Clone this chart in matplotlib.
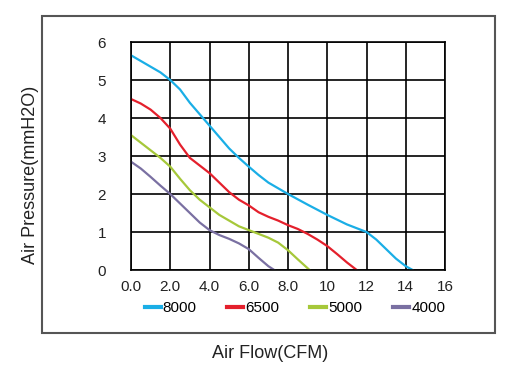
import matplotlib
matplotlib.use("Agg")
import matplotlib.pyplot as plt
from matplotlib.patches import Rectangle
from matplotlib.lines import Line2D

plt.rcParams['font.family'] = ['Liberation Sans', 'DejaVu Sans']

# curve readings (air flow CFM, air pressure mmH2O)
x_8000 = [0, 0.5, 1, 1.5, 2, 2.5, 3, 3.5, 4, 4.5, 5, 5.5, 6, 6.5, 7, 7.5, 8,
          9, 10, 11, 12, 12.5, 13, 13.5, 14, 14.35]
y_8000 = [5.65, 5.5, 5.35, 5.2, 5.0, 4.75, 4.4, 4.1, 3.8, 3.5, 3.2, 2.95, 2.72,
          2.5, 2.3, 2.15, 2.0, 1.72, 1.45, 1.2, 1.0, 0.8, 0.55, 0.3, 0.1, 0]

x_6500 = [0, 0.5, 1, 1.5, 2, 2.5, 3, 3.5, 4, 4.5, 5, 5.5, 6, 6.5, 7, 7.5, 8,
          8.5, 9, 9.5, 10, 10.5, 11, 11.5]
y_6500 = [4.5, 4.38, 4.22, 4.0, 3.72, 3.3, 2.95, 2.75, 2.55, 2.3, 2.05, 1.85,
          1.7, 1.52, 1.4, 1.3, 1.18, 1.08, 0.95, 0.8, 0.63, 0.42, 0.2, 0]

x_5000 = [0, 0.5, 1, 1.5, 2, 2.5, 3, 3.5, 4, 4.5, 5, 5.5, 6, 6.5, 7, 7.5, 8,
          8.5, 9.1]
y_5000 = [3.55, 3.35, 3.15, 2.95, 2.72, 2.4, 2.1, 1.85, 1.65, 1.45, 1.3, 1.15,
          1.05, 0.95, 0.85, 0.72, 0.52, 0.28, 0]

x_4000 = [0, 0.5, 1, 1.5, 2, 2.5, 3, 3.5, 4, 4.5, 5, 5.5, 6, 6.5, 7, 7.3]
y_4000 = [2.85, 2.67, 2.45, 2.22, 2.0, 1.75, 1.5, 1.25, 1.05, 0.92, 0.82, 0.7,
          0.55, 0.32, 0.1, 0]

speeds = ['8000', '6500', '5000', '4000']
colors = ['#1aaee6', '#e4202c', '#a6c83a', '#7a70a2']

xticks = [0, 2, 4, 6, 8, 10, 12, 14, 16]
xticklabels = ['0.0', '2.0', '4.0', '6.0', '8.0', '10', '12', '14', '16']
yticks = [0, 1, 2, 3, 4, 5, 6]

fig = plt.figure(figsize=(5.16, 3.67), dpi=100)
fig.patches.append(Rectangle((42/516, 1-333/367), 453/516, 317/367,
                             transform=fig.transFigure, fill=False,
                             edgecolor='#555555', linewidth=1.5))

ax = fig.add_axes([131/516, 1-270/367, 314/516, 228/367])
series = [(x_8000, y_8000), (x_6500, y_6500), (x_5000, y_5000), (x_4000, y_4000)]
for (xs, ys), c in zip(series, colors):
    ax.plot(xs, ys, color=c, linewidth=1.6, solid_joinstyle='round')

ax.set_xlim(0, 16)
ax.set_ylim(0, 6)
ax.set_xticks(xticks)
ax.set_xticklabels(xticklabels)
ax.set_yticks(yticks)
ax.grid(True, color='black', linewidth=1.2)
ax.set_axisbelow(True)
for s in ax.spines.values():
    s.set_color('black')
    s.set_linewidth(1.2)
ax.tick_params(length=0, labelsize=11, colors='#222222')
ax.tick_params(axis='y', pad=18)
ax.tick_params(axis='x', pad=7)

handles = [Line2D([], [], color=c, linewidth=3) for c in colors]
fig.legend(handles, speeds, loc='center', bbox_to_anchor=(295/516, 1-308/367),
           ncol=4, frameon=False, fontsize=11, handlelength=1.05,
           handletextpad=0.15, columnspacing=2.0)

fig.text(31/516, 1-175/367, 'Air Pressure(mmH2O)', rotation=90,
         ha='center', va='center', fontsize=13, color='#222222')
fig.text(270/516, 1-353/367, 'Air Flow(CFM)', ha='center', va='center',
         fontsize=13, color='#222222')

fig.savefig('out.png', dpi=100)
